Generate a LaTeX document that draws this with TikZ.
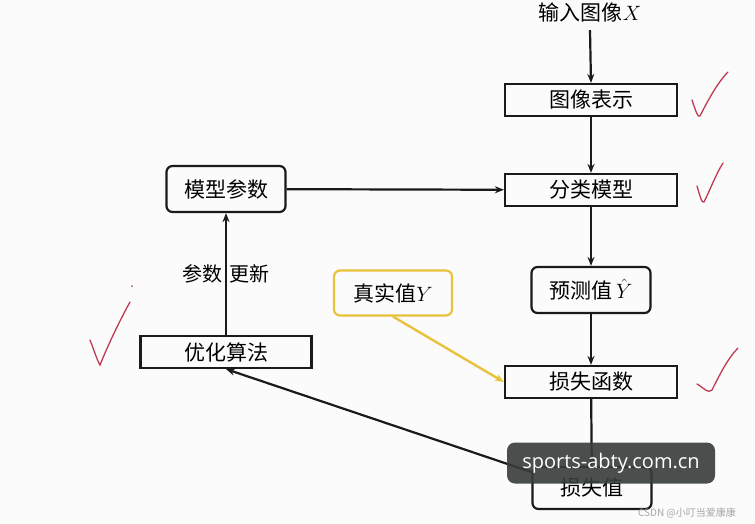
\documentclass[tikz,border=0pt]{standalone}
\usepackage{fontspec}
\usepackage{amsmath}
\newfontfamily\cjk{Noto Sans CJK SC}
\newfontfamily\wmfont{Open Sans}
\usetikzlibrary{arrows.meta}
\definecolor{boxline}{HTML}{1A1A1A}
\definecolor{truthline}{HTML}{E8C23A}
\definecolor{tickred}{HTML}{C23A52}
\definecolor{wmgray}{HTML}{373D3C}
\tikzset{
  stage/.style={draw=boxline, line width=2.2pt, minimum width=172pt, minimum height=32pt,
    inner sep=0pt, font=\cjk\fontsize{21}{24}\selectfont},
  roundstage/.style={stage, rounded corners=6pt, minimum width=119pt, minimum height=46pt},
  flow/.style={line width=2.2pt, draw=boxline, -{Stealth[length=9pt,width=7pt]}},
  tick/.style={tickred, line width=1.3pt, line cap=round}
}
\begin{document}
\begin{tikzpicture}[x=1pt, y=-1pt]
    \useasboundingbox (0,0) rectangle (755,523);
    \fill[white!97!gray] (0,0) rectangle (755,523);

    % --- Right column: input and model ---
    \node[font=\cjk\fontsize{21}{24}\selectfont] (input) at (590,12) {输入图像$X$};
    \node[stage] (repr) at (591,100) {图像表示};
    \node[stage] (classifier) at (591,190) {分类模型};
    \node[roundstage] (pred) at (591,290) {预测值\,$\hat{Y}$};
    \node[stage] (lossfn) at (591,382) {损失函数};
    \node[roundstage, minimum height=42pt] (lossval) at (592,488) {损失值};

    % --- Left column: parameters and optimiser ---
    \node[roundstage] (params) at (226,189) {模型参数};
    \node[stage, minimum width=171pt] (optim) at (226,352) {优化算法};

    % --- Ground truth (yellow frame) ---
    \node[roundstage, draw=truthline, minimum width=118pt, minimum height=45pt] (truth) at (393,293) {真实值$Y$};

    % --- Main flow downwards ---
    \draw[flow] (input.south) ++(0,5) -- (repr.north);
    \draw[flow] (repr) -- (classifier);
    \draw[flow] (classifier) -- (pred);
    \draw[flow] (pred) -- (lossfn);
    \draw[flow] (lossfn) -- (lossval);

    % --- Feedback loop ---
    \draw[flow] (lossval.west) ++(0,-16) -- (optim.south);
    \draw[flow] (optim) -- node[font=\cjk\fontsize{20}{24}\selectfont] {参数\,\,更新} (params);
    \draw[flow] (params) -- (classifier);
    \draw[flow, draw=truthline, line width=2.4pt] (truth.south) -- (lossfn.west);

    % --- Hand-drawn ticks ---
    \draw[tick] (692,100) .. controls (696,112) and (698,118) .. (700,116)
                .. controls (708,100) and (718,82) .. (728,72);
    \draw[tick] (697,186) .. controls (700,196) and (702,204) .. (704,202)
                .. controls (710,190) and (716,174) .. (723,163);
    \draw[tick] (697,384) .. controls (704,388) and (708,394) .. (712,390)
                .. controls (720,374) and (728,358) .. (738,348);
    \draw[tick] (90,340) .. controls (94,350) and (97,360) .. (100,365)
                .. controls (108,345) and (120,320) .. (130,302);
    \fill[tickred!60!gray] (132,286) circle (1pt);

    % --- Site overlay ---
    \node[fill=wmgray, fill opacity=0.9, text opacity=1, rounded corners=8pt,
          minimum width=208pt, minimum height=41pt, inner sep=0pt,
          text=white, font=\wmfont\fontsize{20}{24}\selectfont] (overlay) at (611,463) {sports-abty.com.cn};
    \node[text=gray!70, font=\cjk\fontsize{10}{12}\selectfont] (credit) at (687,513) {CSDN @小叮当爱康康};

\end{tikzpicture}
\end{document}
